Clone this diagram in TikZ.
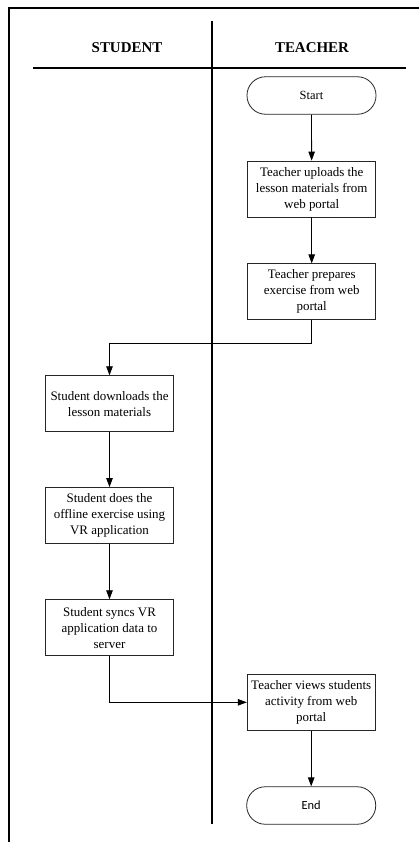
\documentclass[tikz,border=0pt]{standalone}
\usepackage{fontspec}
\setmainfont{Liberation Serif}
\newfontfamily\carl{Carlito}
\usetikzlibrary{arrows.meta}
\begin{document}
\begin{tikzpicture}[x=1bp,y=-1bp,
  proc/.style={draw=black!85, line width=0.8bp, minimum width=128bp, minimum height=56bp,
    align=center, inner sep=0pt, font=\fontsize{13}{16}\selectfont},
  term/.style={draw=black!85, line width=0.8bp, rounded corners=18.5bp, minimum width=129bp,
    minimum height=37.5bp, inner sep=0pt},
  arr/.style={-{Triangle[length=9bp,width=6.5bp]}, line width=0.8bp},
  frame/.style={line width=1.6bp},
  hdr/.style={font=\fontsize{15}{18}\selectfont\bfseries}]
\useasboundingbox (0,0) rectangle (419,842);
\fill[white] (0,0) rectangle (419,842);
% frame and lanes
\draw[frame] (9,842) -- (9,8) -- (419,8);
\draw[frame] (212,21) -- (212,824);
\draw[frame] (33,68) -- (406,68);
\node[hdr] (hs) at (127,48) {STUDENT};
\node[hdr] (ht) at (312,48) {TEACHER};
% nodes
\node[term, font=\fontsize{12.5}{15}\selectfont] (start) at (311.5,95.5) {Start};
\node[proc] (t1) at (311.7,189) {Teacher uploads the\\lesson materials from\\web portal};
\node[proc] (t2) at (311.7,291.8) {Teacher prepares\\exercise from web\\portal};
\node[proc] (s1) at (109.5,403.7) {Student downloads the\\lesson materials};
\node[proc] (s2) at (109.5,515.5) {Student does the\\offline exercise using\\VR application};
\node[proc] (s3) at (109.5,627.7) {Student syncs VR\\application data to\\server};
\node[proc] (t3) at (311.2,702.3) {Teacher views students\\activity from web\\portal};
\node[term, font=\carl\fontsize{12.5}{15}\selectfont] (end) at (311.2,805.5) {End};
% connectors
\coordinate (j1) at (311.7,343);
\draw[arr] (start) -- (t1);
\draw[arr] (t1) -- (t2);
\draw[arr] (t2.south) -- (j1) -| (s1.north);
\draw[arr] (s1) -- (s2);
\draw[arr] (s2) -- (s3);
\draw[arr] (s3.south) |- (t3.west);
\draw[arr] (t3) -- (end);
\end{tikzpicture}
\end{document}
